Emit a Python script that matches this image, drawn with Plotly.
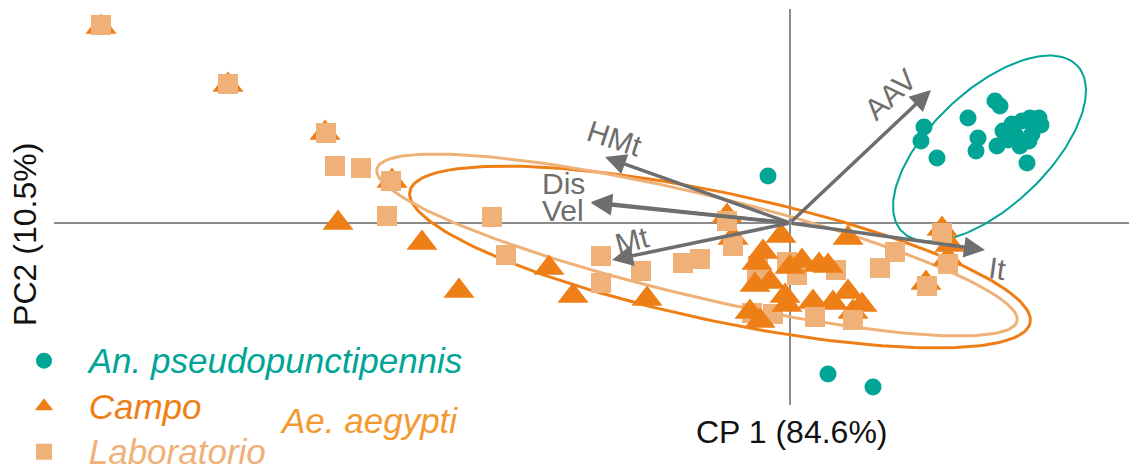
import numpy as np
import plotly.graph_objects as go

# ---------------- data (PCA scores, arbitrary units) ----------------
anoph_x = [-0.22, 0.38, 0.83, 1.34, 1.31, 1.47, 1.78, 2.05, 2.10, 1.88, 1.86, 2.07,
           2.13, 2.22, 2.32, 2.40, 2.49, 2.51, 2.42, 2.26, 2.30, 2.39, 2.37, 2.18]
anoph_y = [0.47, -1.51, -1.64, 0.96, 0.82, 0.65, 1.05, 1.22, 1.17, 0.85, 0.72, 0.77,
           0.92, 0.99, 1.02, 1.05, 1.05, 0.98, 0.89, 0.87, 0.77, 0.82, 0.60, 0.83]

campo_x = [-6.89, -5.62, -4.65, -3.98, -4.52, -3.68, -3.31, -2.41, -2.17, -1.43,
           -0.63, -0.57, -0.09, -0.27, -0.33, 0.12, 0.00, 0.29, 0.38, -0.35,
           -0.20, -0.05, -0.03, -0.40, -0.30, 0.58, 0.43, 0.58, 0.72, 0.23,
           0.63, 1.52, 1.60, 1.58, 1.36]
campo_y = [1.96, 1.38, 0.90, 0.42, 0.00, -0.20, -0.68, -0.45, -0.73, -0.76,
           0.07, -0.15, -0.13, -0.29, -0.40, -0.38, -0.44, -0.42, -0.43, -0.62,
           -0.59, -0.73, -0.82, -0.89, -0.98, -0.15, -0.80, -0.69, -0.82, -0.79,
           -0.89, -0.06, -0.22, -0.36, -0.60]

lab_x = [-6.89, -5.62, -4.64, -3.99, -0.63, -0.57, 1.52, 1.58, 0.25, 0.63, 1.37,
         -4.55, -4.29, -4.03, -2.98, -2.84, -1.89, -1.89, -1.49, -1.07, -0.90,
         -0.32, -0.33, -0.38, -0.17, 0.07, -0.03, 0.46, 0.90, 1.05]
lab_y = [1.98, 1.39, 0.90, 0.42, 0.02, -0.23, -0.10, -0.41, -0.94, -0.97, -0.63,
         0.57, 0.55, 0.07, 0.06, -0.32, -0.33, -0.60, -0.48, -0.40, -0.36,
         -0.43, -0.56, -0.90, -0.91, -0.52, -0.39, -0.47, -0.45, -0.29]
lab_front = [0, 1, 2, 3, 4, 5, 6, 7, 8, 9, 10]   # drawn above the triangles

# loading vectors
load_names = ["AAV", "HMt", "Dis", "Vel", "Mt", "It"]
load_x = [1.41, -1.85, -1.99, -1.99, -1.78, 1.95]
load_y = [1.33, 0.66, 0.21, 0.20, -0.37, -0.27]
# label placement for each loading
lab_pos_x = [1.00, -1.75, -2.27, -2.27, -1.58, 2.07]
lab_pos_y = [1.29, 0.85, 0.40, 0.13, -0.17, -0.45]
lab_angle = [-43, 18, 0, 0, -15, 8]

# ellipses: centre x, centre y, semi-major, semi-minor, angle (deg)
ell_anoph = (1.995, 0.745, 1.207, 0.581, 43.3)
ell_campo = (-0.70, -0.34, 3.17, 0.64, -12.0)
ell_lab = (-0.93, -0.22, 3.29, 0.51, -13.4)

TEAL = "#00A596"
CAMPO = "#EE7F17"
LAB = "#EFB177"
AEG = "#F4992F"
GRAY = "#6E6E6E"
FONT = "Liberation Sans, Arial, sans-serif"
PAD = "\u00a0\u00a0\u2009"


def ellipse(params, n=200):
    cx, cy, a, b, ang = params
    t = np.linspace(0, 2 * np.pi, n)
    th = np.deg2rad(ang)
    x = cx + a * np.cos(t) * np.cos(th) - b * np.sin(t) * np.sin(th)
    y = cy + a * np.cos(t) * np.sin(th) + b * np.sin(t) * np.cos(th)
    return x, y


def leg_name(txt, col):
    return f"{PAD}<span style='color:{col};font-size:35px'><i>{txt}</i></span>"


fig = go.Figure()

for params, col, w in [(ell_campo, CAMPO, 3), (ell_lab, LAB, 3), (ell_anoph, TEAL, 2)]:
    ex, ey = ellipse(params)
    fig.add_trace(go.Scatter(x=ex, y=ey, mode="lines", line=dict(color=col, width=w),
                             showlegend=False, hoverinfo="skip"))

back = [i for i in range(len(lab_x)) if i not in lab_front]
fig.add_trace(go.Scatter(x=[lab_x[i] for i in back], y=[lab_y[i] for i in back],
                         mode="markers", marker=dict(symbol="square", size=20, color=LAB),
                         showlegend=False))
fig.add_trace(go.Scatter(x=campo_x, y=campo_y, mode="markers",
                         marker=dict(symbol="triangle-up", size=27, color=CAMPO),
                         name=leg_name("Campo", CAMPO), legendrank=2))
fig.add_trace(go.Scatter(x=[lab_x[i] for i in lab_front], y=[lab_y[i] for i in lab_front],
                         mode="markers", marker=dict(symbol="square", size=20, color=LAB),
                         name=leg_name("Laboratorio", LAB), legendrank=3))
fig.add_trace(go.Scatter(x=anoph_x, y=anoph_y, mode="markers",
                         marker=dict(symbol="circle", size=17, color=TEAL),
                         name=leg_name("An. pseudopunctipennis", TEAL), legendrank=1))

ann = []
for nm, x, y, tx, ty, ta in zip(load_names, load_x, load_y, lab_pos_x, lab_pos_y, lab_angle):
    ann.append(dict(x=x, y=y, ax=0, ay=0, xref="x", yref="y", axref="x", ayref="y",
                    text="", showarrow=True, arrowhead=2, arrowsize=1.2, arrowwidth=3.5,
                    arrowcolor=GRAY, standoff=0))
    ann.append(dict(x=tx, y=ty, xref="x", yref="y", text=nm, showarrow=False,
                    textangle=ta, font=dict(family=FONT, size=30, color=GRAY)))

ann.append(dict(x=0.6865, y=-0.068, xref="paper", yref="paper", text="CP 1 (84.6%)",
                xanchor="center", yanchor="middle",
                showarrow=False, font=dict(family=FONT, size=32, color="#111111")))
ann.append(dict(x=-0.027, y=0.432, xref="paper", yref="paper", text="PC2 (10.5%)",
                xanchor="center", yanchor="middle",
                textangle=-90, showarrow=False, font=dict(family=FONT, size=32, color="#111111")))
ann.append(dict(x=0.2084, y=-0.038, xref="paper", yref="paper", text="<i>Ae. aegypti</i>",
                xanchor="left", yanchor="middle",
                showarrow=False, font=dict(family=FONT, size=35, color=AEG)))

fig.update_layout(
    width=1129, height=467,
    margin=dict(l=54, r=0, t=9, b=62, autoexpand=False),
    paper_bgcolor="white", plot_bgcolor="white",
    xaxis=dict(range=[-7.36, 3.39], showgrid=False, showticklabels=False, ticks="",
               zeroline=True, zerolinecolor="#8C8C8C", zerolinewidth=2, showline=False),
    yaxis=dict(range=[-1.82, 2.14], showgrid=False, showticklabels=False, ticks="",
               zeroline=True, zerolinecolor="#8C8C8C", zerolinewidth=2, showline=False),
    showlegend=True,
    legend=dict(x=-0.0279, y=0.182, xanchor="left", yanchor="top",
                font=dict(family=FONT, size=32.7), bgcolor="rgba(0,0,0,0)",
                itemsizing="trace", tracegroupgap=0),
    annotations=ann,
)

fig.write_html("out.html", config={"displayModeBar": False},
               post_script="document.body.style.margin='0';")
